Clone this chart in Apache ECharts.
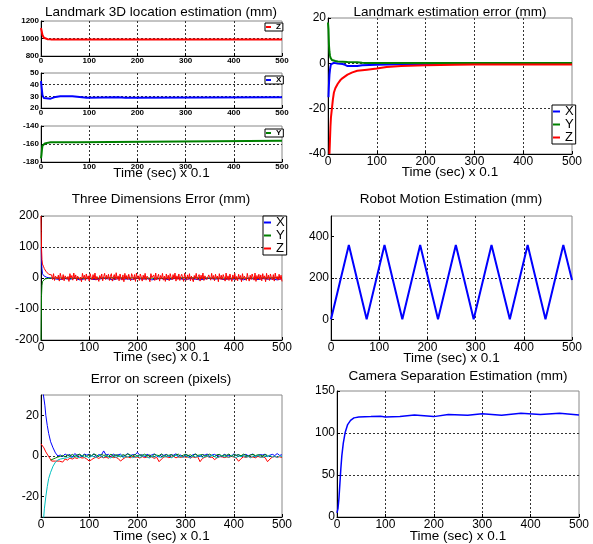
<!DOCTYPE html>
<html>
<head>
<meta charset="utf-8">
<script src="https://cdn.jsdelivr.net/npm/echarts@6/dist/echarts.min.js"></script>
<style>
html, body { margin: 0; padding: 0; background: #fff; }
#main { width: 593px; height: 544px; }
</style>
</head>
<body>
<div id="main"></div>
<script>
// ---------- data ----------
// x axis is "Time (sec) x 0.1", 0..500 everywhere
var xTicks = [0, 100, 200, 300, 400, 500];

// Landmark 3D location estimation (three small plots)
var locZ_t = [0, 1, 2, 3, 4, 6, 8, 10, 14, 20, 40, 41, 500];
var locZ_v = [1120, 1110, 1070, 1040, 1020, 1008, 1000, 996, 992, 990, 990, 988, 988];
var locX_t = [0, 1, 2, 3, 4, 6, 8, 20, 24, 30, 40, 65, 68, 95, 98, 160, 163, 175, 178, 500];
var locX_v = [43, 42, 35, 31, 29.5, 28.5, 28, 28, 29, 29.5, 30, 30, 28.7, 28.7, 29.3, 29.3, 28.7, 28.7, 29.2, 29.2];
var locY_t = [0, 1, 2, 3, 5, 8, 10, 15, 20, 75, 78, 500];
var locY_v = [-176, -172, -166, -162, -160, -159.5, -159, -158.5, -158, -158, -156.3, -156.3];

// Landmark estimation error
var errX_t = [1, 2, 3, 4, 5, 6, 8, 10, 12, 15, 20, 30, 35, 40, 60, 70, 100, 150, 260, 500];
var errX_v = [-15, -9, -5, -3, -1.5, -0.5, 0, 0.2, 0.2, 0, -0.1, -0.3, -0.7, -1.2, -1.2, -0.8, -0.6, -0.4, -0.3, -0.3];
var errY_t = [0, 1, 2, 3, 4, 5, 6, 8, 10, 15, 20, 30, 40, 60, 70, 80, 100, 500];
var errY_v = [18, 15, 8, 5, 3.5, 2.5, 2, 1.5, 1.2, 1, 0.8, 0.7, 0.6, 0.5, 0.3, 0.2, 0.2, 0.2];
var errZ_t = [3, 4, 5, 6, 7, 8, 10, 12, 15, 20, 25, 30, 40, 50, 60, 80, 100, 120, 150, 200, 260, 300, 500];
var errZ_v = [-40, -34, -28, -24, -22, -20, -16, -13, -11, -9, -7.5, -6.5, -5, -4, -3.3, -2.8, -2.3, -1.6, -1.2, -0.9, -0.6, -0.5, -0.5];

// Three Dimensions Error: start of each curve, then the noisy part (fixed time step)
var e3Z_t = [0, 0.5, 1, 2, 3, 5, 7, 10, 13, 16, 20];
var e3Z_v = [200, 150, 100, 60, 45, 38, 30, 22, 16, 12, 10];
var e3Z_noiseStart = 22, e3Z_noiseStep = 2;
var e3Z_noise = [
  10, -5, 14, -8, 6, 12, -3, 9, -10, 15, 2, -6, 11, -9, 7, 13, -4, 5, -11, 14,
  0, 8, -7, 16, -2, 10, -9, 6, 12, -5, 3, -12, 15, -1, 9, -8, 13, -3, 7, -10,
  14, 1, -6, 11, -4, 16, -7, 5, 10, -11, 8, -2, 13, -9, 4, 15, -5, 9, -3, 12,
  -8, 6, 14, -10, 2, 11, -6, 17, -4, 7, -9, 13, 0, -7, 10, -12, 15, -3, 8, -5,
  12, -1, -9, 14, 5, -6, 11, -11, 16, -2, 7, -8, 13, 3, -10, 9, -4, 15, -7, 6,
  11, -3, -12, 14, 1, -5, 10, -8, 16, -6, 4, 12, -10, 8, -2, 15, -7, 6, -11, 13,
  -4, 9, -9, 14, 2, -6, 11, -3, 16, -10, 7, -5, 13, -8, 5, 12, -1, -11, 15, 3,
  -7, 10, -4, 14, -9, 6, 12, -12, 8, -2, 15, -6, 4, 11, -10, 9, -3, 16, -8, 7,
  13, -5, -11, 10, 1, -7, 15, -3, 8, -9, 12, -1, 6, -12, 14, -4, 9, -6, 11, 2,
  -10, 16, -5, 7, -8, 13, 0, -11, 10, -3, 15, -7, 5, -9, 12, -2, 8, -12, 14, -4,
  6, 11, -8, 15, -1, -10, 9, -5, 13, 3, -7, 16, -11, 8, -3, 12, -6, 10, -9, 14,
  -2, 7, -12, 15, -4, 9, -8, 13, 1, -6, 11, -10, 16, -3, 5, -7, 12, -5, 9, -11
];
var e3X_t = [0.5, 1, 2, 3, 5, 8, 12, 20];
var e3X_v = [100, 60, 30, 15, 8, 4, 2, 0];
var e3X_noiseStart = 30, e3X_noiseStep = 10;
var e3X_noise = [-3, -5, -2, -4, -1, -6, -3, -2, -5, -4, -1, -3, -6, -2, -4, -3, -5, -1, -4, -2, -6, -3, -2, -5,
  -4, -1, -3, -5, -2, -4, -6, -3, -1, -4, -2, -5, -3, -4, -2, -6, -1, -3, -5, -2, -4, -3, -6, -2];
var e3Y_t = [0, 0.3, 1, 2, 3, 5, 8, 12, 20, 30];
var e3Y_v = [-200, -200, -60, -25, -12, -6, -3, -1, 0, 0];
var e3Y_noiseStart = 50, e3Y_noiseStep = 50;
var e3Y_noise = [0, -1, 1, 0, -1, 1, 0, -1, 0, 1];

// Robot Motion Estimation
var robot_t = [0, 37, 74, 111, 148, 185, 222, 259, 296, 333, 371, 408, 445, 482, 500];
var robot_v = [0, 360, 0, 360, 0, 360, 0, 360, 0, 360, 0, 360, 0, 360, 190];

// Error on screen (pixels)
var scrB_t = [3, 5, 8, 10, 13, 16, 20, 25, 30, 35];
var scrB_v = [34, 30, 25, 20, 15, 11, 7, 4, 1.5, 0];
var scrB_noiseStart = 40, scrB_noiseStep = 5;
var scrB_noise = [0.5, -0.3, 1, 0.2, 0.8, -0.5, 1.2, 0.3, 0.6, -0.2, 1, 0.4, 0.9, 0, 1.1, -0.4, 0.7, 0.3, 2.5, 0.5,
  0.8, -0.3, 1, 0.2, 0.6, 0.9, -0.2, 0.4, 1.2, 0.1, 0.7, 0.5, 1.8, 0.3, 0.6, -0.4, 0.9, 0.2, 0.5, 1,
  0.1, -0.5, 0.7, 0.3, 0.8, -0.2, 0.6, 0.4, 1.1, 0, 0.5, -0.6, 0.8, 0.3, -0.4, 0.6, 0.9, 0.2, -0.3, 0.7,
  0.4, 1, -0.2, 0.5, 0.8, 0.1, 0.6, -0.5, 0.9, 0.3, 0.4, -0.1, 1.1, 0.2, 0.7, -0.3, 0.5, 0.8, 0.1, 0.6,
  1, -0.4, 0.3, 0.7, 0.5, 0.9, -0.2, 0.4, 0.8, 0.2, 1.2, 0.3, 0.6];
var scrR_t = [0, 3, 6, 10, 14, 18, 22, 26, 30, 34, 38];
var scrR_v = [6, 5.5, 4, 2, 0.5, -1, -2.5, -3, -2.5, -3, -2.5];
var scrR_noiseStart = 40, scrR_noiseStep = 5;
var scrR_noise = [-2, -3, -1.5, -2, -1, -1.5, -0.8, -1.2, -0.5, -1, -0.8, -1.5, -2.5, -1.8, -1, -0.6, -1.2, -0.4, -0.9, -0.5,
  -1.1, -0.3, -0.8, -0.6, -1.2, -2.5, -1.5, -0.7, -0.4, -0.9, -0.2, -0.6, -0.5, -1, -0.3, -0.8, -0.5, -0.7, -0.4, -1.2,
  -0.6, -2.8, -1.5, -0.5, -0.3, -0.8, -0.6, -0.2, -0.9, -0.4, -0.7, -0.3, -0.6, -0.5, -1, -0.4, -0.8, -0.3, -2.8, -1.2,
  -0.6, -0.2, -0.7, -0.5, -1.8, -0.9, -0.4, -0.3, -0.8, -0.5, -0.6, -0.2, -0.5, -1, -2.6, -1.3, -0.4, -0.7, -0.3, -0.6,
  -0.5, -0.9, -0.2, -0.6, -0.4, -0.8, -2.8, -1.5, -0.5, -0.3, -0.6, -0.4, -0.7];
var scrC_t = [5, 7, 10, 13, 16, 20, 25, 30, 35, 40, 50];
var scrC_v = [-32, -26, -20, -15, -11, -8, -5, -3, -2, -1.5, -1];
var scrC_noiseStart = 55, scrC_noiseStep = 5;
var scrC_noise = [-0.8, -0.3, -1, 0.2, -0.5, -0.9, 0.3, -0.6, -0.2, -1, 0.1, -0.4, -0.8, 0.4, -0.3, -0.7, 0.2, -0.5, -1, 0,
  -0.6, -0.3, 0.5, -0.8, -0.2, -0.6, 0.3, -0.9, -0.4, 0.1, -0.7, -0.2, 0.4, -0.5, -1, -0.1, -0.6, 0.3, -0.4, -0.8,
  0, -0.5, 0.2, -0.9, -0.3, 0.4, -0.6, -0.1, -0.7, 0.2, -0.4, -1, 0.1, -0.5, -0.2, 0.3, -0.8, -0.3, 0, -0.6,
  0.4, -0.2, -0.9, -0.4, 0.2, -0.5, -0.1, -0.7, 0.3, -0.4, -0.8, 0, -0.3, 0.2, -0.6, -0.2, -0.9, 0.1, -0.5, 0.3,
  -0.4, -0.7, 0, -0.3, 0.4, -0.6, -0.1, -0.8, 0.2, -0.4];
var scrG_noiseStart = 20, scrG_noiseStep = 5;
var scrG_noise = [-2, -1.5, -1, -0.5, -0.2, 0.3, -0.4, 0.6, 0, 0.8, -0.2, 0.5, 0.9, 0.1, 0.6, -0.3, 0.7, 0.2, 1, 0.4,
  -0.1, 0.8, 0.3, 0.5, -0.2, 0.9, 0.1, 0.6, 0.3, -0.4, 0.7, 0.2, 1, 0.5, 0, 0.8, -0.2, 0.6, 0.3, 0.9,
  0.1, 0.5, -0.3, 0.8, 0.4, 0.2, 1, -0.1, 0.6, 0.3, 0.7, 0, 0.5, 0.9, -0.2, 0.4, 0.8, 0.2, 0.6, -0.1,
  1, 0.3, 0.5, 0.7, 0, 0.4, 0.9, 0.2, -0.3, 0.6, 0.8, 0.1, 0.5, 0.3, 1, -0.2, 0.7, 0.4, 0.6, 0.1,
  0.9, 0.3, -0.1, 0.5, 0.8, 0.2, 0.6, 0.4, 0, 0.7, 0.3];

// Camera Separation Estimation
var cam_t = [0, 2, 4, 6, 8, 10, 13, 17, 22, 28, 35, 45, 70, 90, 100, 130, 160, 180, 200, 230, 270, 300, 340, 380, 420, 460, 500];
var cam_v = [5, 10, 22, 40, 58, 73, 88, 101, 110, 115, 118, 119, 119.5, 120, 119, 119.5, 121.5, 120.5, 119.5, 122, 121, 123, 121, 123.5, 122, 123.5, 121.5];

// ---------- helpers ----------
var FONT = '"Liberation Sans", Arial, sans-serif';
var BLUE = '#0000ff', GREEN = '#008000', RED = '#ff0000', CYAN = '#00bfbf';

function pairs(t, v) {
  return t.map(function (x, i) { return [x, v[i]]; });
}
// noisy part is sampled at a fixed time step
function stepped(start, step, v) {
  return v.map(function (y, i) { return [start + i * step, y]; });
}
function plain(v) { return String(v); } // no thousands separator

function grid(left, top, width, height) {
  return { left: left, top: top, width: width, height: height, show: true,
    borderColor: '#888', borderWidth: 1, backgroundColor: '#fff' };
}

function xAxis(gi, small, nameGap) {
  return {
    type: 'value', gridIndex: gi, min: 0, max: 500, interval: 100,
    axisLine: { show: true, onZero: false, lineStyle: { color: '#000' } },
    axisTick: { inside: true, length: 3, lineStyle: { color: '#000' } },
    axisLabel: { color: '#000', fontFamily: FONT, fontSize: small ? 8 : 12, formatter: plain,
      fontWeight: small ? 'bold' : 'normal', margin: small ? 1 : 2 },
    splitLine: { show: true, showMinLine: false, showMaxLine: false,
      lineStyle: { color: '#333', type: [2, 2], width: 1 } },
    name: nameGap ? 'Time (sec) x 0.1' : '', nameLocation: 'middle', nameGap: nameGap || 0,
    nameMoveOverlap: false,
    nameTextStyle: { color: '#000', fontFamily: FONT, fontSize: 13.5, verticalAlign: 'middle' }
  };
}

function yAxis(gi, min, max, interval, small, custom) {
  var a = {
    type: 'value', gridIndex: gi, min: min, max: max, interval: interval,
    axisLine: { show: true, onZero: false, lineStyle: { color: '#000' } },
    axisTick: { inside: true, length: 3, lineStyle: { color: '#000' } },
    axisLabel: { color: '#000', fontFamily: FONT, fontSize: small ? 8 : 12, formatter: plain,
      fontWeight: small ? 'bold' : 'normal', margin: 2 },
    splitLine: { show: true, showMinLine: false, showMaxLine: false,
      lineStyle: { color: '#333', type: [2, 2], width: 1 } }
  };
  if (custom) {
    // only every other tick is labelled, grid line only there too
    a.axisLabel.customValues = custom;
    a.axisTick.customValues = custom;
    a.splitLine.lineStyle.color = ['#333', 'rgba(0,0,0,0)'];
  }
  return a;
}

function line(name, gi, data, color, width) {
  return {
    type: 'line', name: name, xAxisIndex: gi, yAxisIndex: gi, data: data,
    showSymbol: false, symbol: 'none', clip: true, silent: true,
    lineStyle: { color: color, width: width }, itemStyle: { color: color }
  };
}

function legendBox(names, left, top, fs) {
  return {
    data: names, orient: 'vertical', left: left, top: top,
    padding: [0, 2, 0, 1], itemGap: 0, itemWidth: fs < 10 ? 5 : 7, itemHeight: 2,
    icon: 'rect', selectedMode: false, backgroundColor: '#fff',
    borderColor: '#000', borderWidth: 1,
    textStyle: { color: '#000', fontFamily: FONT, fontSize: fs, fontWeight: fs < 10 ? 'bold' : 'normal' }
  };
}

function title(text, cx, top) {
  return { text: text, left: cx, top: top, textAlign: 'center', padding: 0,
    textStyle: { color: '#000', fontFamily: FONT, fontSize: 13.5, fontWeight: 'normal' } };
}

// ---------- chart ----------
var chart = echarts.init(document.getElementById('main'));

var option = {
  animation: false,
  backgroundColor: '#fff',
  title: [
    title('Landmark 3D location estimation (mm)', 161, 5),
    title('Landmark estimation error (mm)', 450, 5),
    title('Three Dimensions Error (mm)', 161, 192),
    title('Robot Motion Estimation (mm)', 451, 192),
    title('Error on screen (pixels)', 161, 372),
    title('Camera Separation Estimation (mm)', 458, 369)
  ],
  legend: [
    legendBox(['Z'], 265, 23, 8),
    legendBox(['X'], 265, 76, 8),
    legendBox(['Y'], 265, 129, 8),
    legendBox(['X', 'Y', 'Z'], 552, 105, 13),
    legendBox(['X', 'Y', 'Z'], 263, 216, 13)
  ],
  grid: [
    grid(41, 21, 241, 35),
    grid(41, 73, 241, 35),
    grid(41, 126, 241, 36),
    grid(328, 18, 244, 136),
    grid(41, 216, 241, 124),
    grid(331, 216, 241, 124),
    grid(41, 395, 241, 122),
    grid(337, 391, 242, 126)
  ],
  xAxis: [
    xAxis(0, true), xAxis(1, true), xAxis(2, true, 11),
    xAxis(3, false, 18), xAxis(4, false, 17), xAxis(5, false, 18),
    xAxis(6, false, 19), xAxis(7, false, 19)
  ],
  yAxis: [
    yAxis(0, 800, 1200, 200, true),
    yAxis(1, 20, 50, 10, true),
    yAxis(2, -180, -140, 20, true),
    yAxis(3, -40, 20, 20),
    yAxis(4, -200, 200, 100),
    yAxis(5, -100, 500, 100, false, [0, 200, 400]),
    yAxis(6, -30, 30, 10, false, [-20, 0, 20]),
    yAxis(7, 0, 150, 50)
  ],
  series: [
    // first series with each legend name sets the legend colour
    line('X', 1, pairs(locX_t, locX_v), BLUE, 2),
    line('Y', 2, pairs(locY_t, locY_v), GREEN, 2),
    line('Z', 0, pairs(locZ_t, locZ_v), RED, 2),

    line('X', 3, pairs(errX_t, errX_v), BLUE, 2),
    line('Y', 3, pairs(errY_t, errY_v), GREEN, 2),
    line('Z', 3, pairs(errZ_t, errZ_v), RED, 2),

    line('X', 4, pairs(e3X_t, e3X_v).concat(stepped(e3X_noiseStart, e3X_noiseStep, e3X_noise)), BLUE, 1),
    line('Y', 4, pairs(e3Y_t, e3Y_v).concat(stepped(e3Y_noiseStart, e3Y_noiseStep, e3Y_noise)), GREEN, 1),
    line('Z', 4, pairs(e3Z_t, e3Z_v).concat(stepped(e3Z_noiseStart, e3Z_noiseStep, e3Z_noise)), RED, 1),

    line('robot', 5, pairs(robot_t, robot_v), BLUE, 2),

    line('s1', 6, pairs(scrB_t, scrB_v).concat(stepped(scrB_noiseStart, scrB_noiseStep, scrB_noise)), BLUE, 1),
    line('s2', 6, pairs(scrR_t, scrR_v).concat(stepped(scrR_noiseStart, scrR_noiseStep, scrR_noise)), RED, 1),
    line('s3', 6, stepped(scrG_noiseStart, scrG_noiseStep, scrG_noise), GREEN, 1),
    line('s4', 6, pairs(scrC_t, scrC_v).concat(stepped(scrC_noiseStart, scrC_noiseStep, scrC_noise)), CYAN, 1),

    line('cam', 7, pairs(cam_t, cam_v), BLUE, 1.5)
  ]
};

chart.setOption(option);
</script>
</body>
</html>
